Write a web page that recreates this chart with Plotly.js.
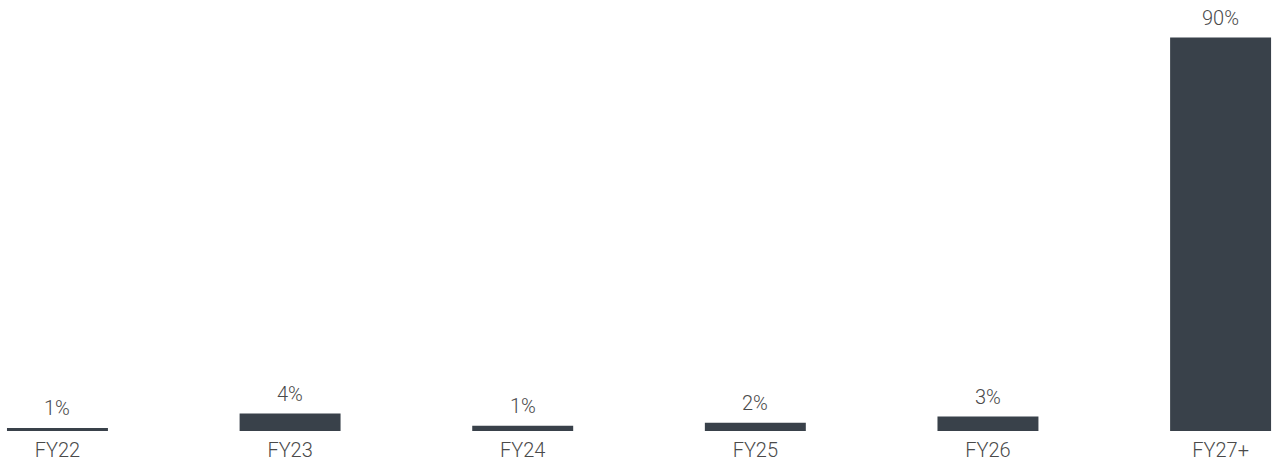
<!DOCTYPE html>
<html>
<head>
<meta charset="utf-8">
<script src="https://cdn.plot.ly/plotly-3.0.1.min.js"></script>
<style>html,body{margin:0;padding:0;background:#fff;}#chart{width:1272px;height:461px;}</style>
</head>
<body>
<div id="chart"></div>
<script>
const categories = ["FY22", "FY23", "FY24", "FY25", "FY26", "FY27+"];
const values = [0.7, 4.0, 1.2, 1.9, 3.3, 90];
const labels = ["1%", "4%", "1%", "2%", "3%", "90%"];

const barColor = "#39414a";
const textColor = "#4a4a4a";
const fontFamily = "Roboto, 'Liberation Sans', sans-serif";

const trace = {
  type: "bar",
  x: categories,
  y: values,
  width: 0.434,
  marker: {color: barColor},
  hoverinfo: "none"
};

const annotations = categories.map((c, i) => ({
  x: c, y: values[i], xref: "x", yref: "y",
  text: labels[i], showarrow: false,
  yanchor: "bottom", yshift: 6,
  font: {family: fontFamily, size: 20, color: textColor, weight: 300}
}));

const layout = {
  width: 1272, height: 461,
  margin: {l: 0, r: 0, t: 0, b: 30},
  paper_bgcolor: "#ffffff", plot_bgcolor: "#ffffff",
  showlegend: false,
  xaxis: {
    type: "category",
    range: [-0.247, 5.221],
    showgrid: false, zeroline: false, showline: false,
    ticks: "", ticklabelstandoff: 5,
    tickfont: {family: fontFamily, size: 20, color: textColor, weight: 300}
  },
  yaxis: {
    range: [0, 98.6],
    visible: false, showgrid: false, zeroline: false
  },
  annotations: annotations
};

Plotly.newPlot("chart", [trace], layout, {displayModeBar: false, staticPlot: true});
</script>
</body>
</html>
